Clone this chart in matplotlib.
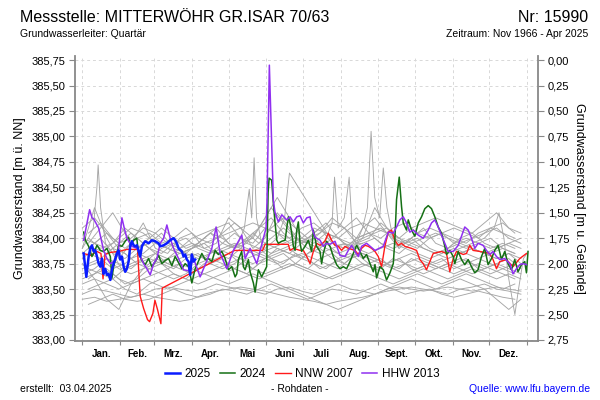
import matplotlib
matplotlib.use("Agg")
import matplotlib.pyplot as plt
from matplotlib.ticker import FixedLocator, FuncFormatter, NullFormatter

plt.rcParams['font.family'] = ['Liberation Sans', 'DejaVu Sans']

# ground level (m ü. NN) -> right axis is depth below ground
ground = 385.75

month_starts = [0, 31, 59, 90, 120, 151, 181, 212, 243, 273, 304, 334, 365]
month_names = ['Jan.', 'Feb.', 'Mrz.', 'Apr.', 'Mai', 'Juni', 'Juli', 'Aug.',
               'Sept.', 'Okt.', 'Nov.', 'Dez.']

# --- 2025 (blue) ---
blue_days = [1.1, 3.3, 5.2, 6.6, 7.9, 9.3, 10.7, 12, 13.4, 14.8,
             16.1, 17.5, 18.8, 20.2, 21.6, 23, 24.3, 25.7, 27.1, 28.4,
             29.8, 31.1, 32.5, 33.9, 35.2, 36.6, 38, 39.3, 40.7, 42.1,
             43.4, 44.8, 46.2, 47.5, 48.9, 50.3, 51.6, 54.4, 57.1, 59.8,
             62.6, 63.9, 66.7, 69.4, 72.1, 74.9, 76.2, 77.6, 79, 81.7,
             83.1, 84.4, 85.8, 87.2, 88.5, 89.9, 91.3, 92.6]
blue_vals = [383.85, 383.62, 383.82, 383.90, 383.93, 383.87, 383.88, 383.82, 383.75, 383.72,
             383.80, 383.65, 383.70, 383.64, 383.65, 383.59, 383.69, 383.75, 383.80, 383.85,
             383.88, 383.79, 383.82, 383.72, 383.67, 383.70, 383.77, 383.92, 383.97, 383.93,
             383.92, 383.93, 383.88, 383.82, 383.92, 383.95, 383.97, 383.95, 383.98, 383.97,
             383.95, 383.92, 383.93, 383.95, 383.98, 384.00, 383.98, 383.95, 383.90, 383.87,
             383.82, 383.84, 383.79, 383.77, 383.64, 383.84, 383.77, 383.79]

# --- 2024 (green) ---
green_days = [1.1, 2.5, 5.2, 7.9, 9.3, 12, 14.8, 17.5, 20.2, 23,
              24.3, 25.7, 28.4, 29.8, 32.5, 35.2, 38, 39.3, 42, 44.7,
              46, 48.9, 51.6, 54.4, 57.1, 59.8, 62.6, 65.3, 68, 70.8,
              73.5, 76.2, 79, 81.7, 84.4, 87.2, 89.9, 92.6, 98.1, 100.8,
              103.5, 106.3, 109, 111.7, 114.5, 117.2, 119.9, 122.7, 125.4, 126.8,
              128.1, 130.8, 132.2, 133.6, 136.3, 137.7, 140.4, 141.8, 144.5, 147.2,
              150, 151.3, 152.5, 153.3, 155.4, 156.8, 158.2, 159.6, 160.9, 163.7,
              166.4, 169.1, 170.5, 171.9, 173.2, 174.6, 176, 177.3, 178.7, 180,
              182.8, 185.5, 188.2, 189.6, 192.3, 195.1, 196.4, 197.8, 200.5, 203.3,
              206, 208.7, 211.5, 214.2, 216.9, 219.7, 222.4, 225.1, 227.9, 230.6,
              233.3, 236.1, 238.8, 240.2, 241.5, 244.3, 247, 249.7, 252.5, 255.2,
              256.5, 257.9, 260.1, 262, 263.4, 266.1, 267.5, 270.2, 272.9, 275.7,
              278.4, 281.1, 283.9, 286.6, 289.3, 292.1, 294.8, 297.5, 298.9, 301.6,
              304.4, 305.7, 308.5, 311.2, 313.9, 316.7, 319.4, 322.1, 324.8, 327.6,
              330.3, 333, 335.8, 338.5, 341.2, 344, 346.7, 349.4, 352.2, 354.9,
              357.6, 360.4, 363.1, 364.5, 365.8]
green_vals = [384.06, 383.98, 383.92, 383.82, 383.85, 383.93, 383.88, 383.87, 383.90, 383.82,
              383.61, 383.72, 383.85, 383.93, 383.92, 383.97, 384.01, 383.93, 383.98, 384.00,
              383.86, 383.78, 383.74, 383.80, 383.72, 383.77, 383.83, 383.75, 383.78, 383.80,
              383.73, 383.82, 383.76, 383.70, 383.75, 383.72, 383.56, 383.70, 383.85, 383.79,
              383.80, 383.77, 383.88, 383.84, 383.87, 383.80, 383.69, 383.72, 383.62, 383.65,
              383.79, 383.87, 383.72, 383.69, 383.79, 383.67, 383.56, 383.47, 383.69, 383.62,
              383.69, 383.72, 384.45, 384.59, 384.57, 384.34, 384.15, 383.98, 383.95, 383.97,
              383.98, 384.21, 384.15, 384.05, 383.92, 383.88, 384.08, 384.16, 383.95, 383.87,
              383.92, 383.98, 383.87, 384.08, 383.92, 383.87, 383.75, 383.85, 383.97, 383.92,
              383.82, 383.74, 383.70, 383.72, 383.70, 383.77, 383.85, 383.93, 383.87, 383.80,
              383.84, 383.75, 383.67, 383.74, 383.61, 383.72, 383.69, 383.59, 383.66, 383.75,
              383.98, 384.38, 384.60, 384.31, 384.15, 384.08, 384.18, 384.08, 384.02, 384.15,
              384.21, 384.29, 384.32, 384.29, 384.21, 384.11, 384.05, 383.92, 383.84, 383.88,
              383.82, 383.75, 383.87, 383.79, 383.74, 383.79, 383.72, 383.66, 383.69, 383.82,
              383.90, 383.74, 383.80, 383.88, 383.93, 383.79, 383.87, 383.75, 383.69, 383.79,
              383.67, 383.74, 383.77, 383.66, 383.87]

# --- NNW 2007 (red) ---
red_days = [1.1, 6.6, 12, 15.3, 17, 18.6, 23, 29.8, 36.6, 45.3,
            47.5, 50.3, 53.5, 55.2, 57.9, 59.6, 61.7, 64.5, 65.6, 125,
            148, 150, 169, 170.5, 173.2, 178.7, 181.4, 184.2, 186.9, 189.6,
            192.3, 195.1, 199.2, 201.9, 204.6, 207.4, 210.1, 212.8, 215.6, 218.3,
            223.8, 226.5, 229.2, 232, 234.7, 237.4, 240.2, 242.9, 245.6, 248.3,
            251.1, 253.8, 256.5, 259.3, 262, 264.7, 270.2, 274.3, 277, 279.8,
            282.5, 285.2, 288, 294.8, 298.9, 301.6, 304.4, 307.1, 312.6, 315.3,
            318, 320.7, 326.2, 334.4, 337.1, 339.9, 342.6, 348.1, 353.5, 359,
            364.5]
red_vals = [383.85, 383.83, 383.87, 383.85, 383.60, 383.84, 383.86, 383.87, 383.89, 383.89,
            383.43, 383.31, 383.20, 383.18, 383.26, 383.39, 383.30, 383.16, 383.51, 383.88,
            383.88, 383.94, 383.94, 383.88, 383.90, 383.88, 383.88, 383.82, 383.75, 383.87,
            383.95, 383.93, 383.97, 384.05, 383.98, 383.93, 383.92, 383.88, 383.92, 383.90,
            383.88, 383.84, 383.90, 383.93, 383.92, 383.90, 383.87, 383.82, 383.72, 383.92,
            384.06, 384.08, 383.98, 383.93, 383.95, 383.92, 383.90, 383.88, 383.79, 383.75,
            383.69, 383.77, 383.85, 383.87, 383.85, 383.67, 383.80, 383.87, 383.84, 383.85,
            383.93, 383.88, 383.87, 383.85, 383.79, 383.70, 383.77, 383.79, 383.72, 383.80,
            383.85]

# --- HHW 2013 (purple) ---
purple_days = [1.1, 6, 8, 9.3, 13.4, 17.5, 20.2, 23, 27, 29.8,
               32.5, 34.4, 36.6, 40.7, 44.8, 50.3, 53, 55.7, 58.5, 61.2,
               63.9, 66.7, 69.4, 72.1, 74.9, 79, 83.1, 87.2, 91.3, 96.7,
               102.2, 106.3, 109.8, 113.1, 118.6, 124, 130.9, 133.6, 137.7, 143.2,
               148.6, 150.8, 151.6, 153.5, 156.8, 158.2, 160.9, 163.7, 167.8, 170.5,
               173.2, 176, 178.7, 181.4, 184.2, 186.9, 188.2, 191, 195.1, 197.8,
               200.5, 203.3, 207.4, 211.5, 215.6, 218.3, 221, 223.8, 226.5, 229.2,
               233.3, 240.2, 247, 251.1, 255.2, 257.9, 260.6, 263.4, 266.1, 268.8,
               271.6, 275.7, 279.8, 283.9, 286.6, 289.3, 292.1, 294.8, 297.5, 300.3,
               304.4, 308.5, 311.2, 313.9, 316.7, 319.4, 322.1, 324.8, 328.9, 331.7,
               334.4, 337.1, 339.9, 342.6, 346.7, 350.8, 353.5, 356.3, 359, 361.7,
               364.5]
purple_vals = [383.98, 384.28, 384.20, 384.19, 384.10, 383.88, 383.80, 383.75, 383.78, 383.90,
               384.20, 384.10, 384.00, 383.92, 383.90, 383.75, 383.70, 383.64, 383.75, 383.80,
               383.95, 384.00, 384.13, 384.00, 383.90, 383.80, 383.69, 383.68, 383.80, 383.62,
               383.78, 383.90, 384.11, 383.85, 383.70, 383.88, 384.03, 383.80, 383.90, 383.75,
               384.00, 384.10, 384.37, 385.70, 384.37, 384.25, 384.16, 384.23, 384.18, 384.21,
               384.16, 384.21, 384.22, 384.15, 384.20, 384.21, 384.11, 384.01, 383.98, 383.92,
               383.95, 383.94, 383.97, 383.83, 383.82, 383.88, 383.93, 383.87, 383.82, 383.92,
               383.95, 383.88, 383.92, 384.06, 384.05, 384.11, 384.18, 384.21, 384.15, 384.06,
               384.08, 384.03, 384.00, 384.08, 384.15, 384.18, 384.11, 384.03, 383.95, 383.87,
               383.87, 383.93, 384.02, 384.11, 384.08, 384.00, 383.90, 383.95, 383.93, 383.88,
               383.84, 383.87, 383.82, 383.79, 383.80, 383.75, 383.65, 383.70, 383.74, 383.75,
               383.74]

# --- other years (grey), read coarsely every 10 days ---
grey_days = [0, 10, 20, 30, 40, 50, 60, 70, 80, 90, 100, 110, 120, 130, 140, 150, 160, 170, 180,
             190, 200, 210, 220, 230, 240, 250, 260, 270, 280, 290, 300, 310, 320, 330, 340, 350, 360]
grey_years = [
    [383.85, 383.95, 384.05, 383.9, 383.8, 383.85, 383.95, 383.9, 383.85, 383.9, 384.0, 384.1, 383.95,
     383.9, 384.05, 383.95, 383.9, 383.85, 383.95, 384.0, 383.9, 383.85, 383.9, 383.95, 384.0, 383.9,
     383.85, 383.95, 383.9, 383.85, 383.9, 383.95, 383.9, 383.85, 383.9, 383.95, 383.9],
    [383.7, 383.75, 383.8, 383.7, 383.65, 383.7, 383.75, 383.8, 383.85, 383.9, 383.95, 383.85, 383.8,
     383.9, 383.85, 383.8, 383.75, 383.8, 383.85, 383.8, 383.75, 383.7, 383.8, 383.85, 383.8, 383.75,
     383.7, 383.8, 383.75, 383.7, 383.75, 383.8, 383.75, 383.7, 383.75, 383.8, 383.7],
    [384.1, 384.2, 384.05, 383.95, 384.0, 384.1, 384.05, 383.95, 383.9, 384.0, 384.05, 384.1, 384.15,
     384.0, 383.95, 384.1, 384.05, 383.95, 384.0, 384.1, 384.05, 384.0, 383.95, 384.0, 384.05, 384.1,
     384.0, 383.95, 384.0, 384.05, 384.0, 383.95, 384.0, 384.05, 384.1, 384.0, 383.95],
    [383.6, 383.65, 383.7, 383.6, 383.55, 383.6, 383.65, 383.7, 383.75, 383.7, 383.65, 383.7, 383.75,
     383.8, 383.7, 383.65, 383.7, 383.75, 383.7, 383.65, 383.6, 383.65, 383.7, 383.75, 383.7, 383.65,
     383.6, 383.65, 383.7, 383.65, 383.6, 383.65, 383.7, 383.65, 383.6, 383.65, 383.6],
    [383.45, 383.5, 383.48, 383.45, 383.42, 383.45, 383.5, 383.52, 383.5, 383.48, 383.5, 383.55, 383.52,
     383.5, 383.48, 383.45, 383.5, 383.52, 383.48, 383.45, 383.5, 383.55, 383.5, 383.48, 383.45, 383.5,
     383.52, 383.5, 383.48, 383.5, 383.52, 383.5, 383.48, 383.5, 383.52, 383.5, 383.48],
    [383.4, 383.42, 383.38, 383.4, 383.42, 383.45, 383.42, 383.4, 383.38, 383.4, 383.45, 383.48, 383.5,
     383.52, 383.5, 383.48, 383.45, 383.42, 383.4, 383.38, 383.35, 383.38, 383.4, 383.42, 383.45, 383.48,
     383.5, 383.52, 383.5, 383.48, 383.45, 383.5, 383.52, 383.55, 383.5, 383.48, 383.45],
    [383.9, 384.3, 384.0, 383.8, 383.95, 384.15, 383.9, 383.85, 384.0, 384.05, 383.9, 383.95, 384.2,
     384.1, 383.9, 384.0, 384.25, 384.1, 383.95, 384.05, 384.15, 384.0, 383.9, 384.1, 384.2, 384.05,
     383.9, 384.0, 384.1, 383.95, 383.9, 384.0, 384.05, 383.95, 383.9, 383.95, 384.0],
    [383.75, 383.6, 383.4, 383.3, 383.55, 383.7, 383.8, 383.75, 383.7, 383.65, 383.75, 383.8, 383.85,
     383.75, 383.7, 383.8, 383.85, 383.9, 383.8, 383.75, 383.7, 383.8, 383.85, 383.75, 383.7, 383.75,
     383.8, 383.7, 383.65, 383.7, 383.75, 383.7, 383.65, 383.7, 383.75, 383.7, 383.65],
    [383.8, 383.9, 383.85, 383.95, 384.05, 383.95, 383.85, 383.8, 383.9, 383.95, 383.9, 383.85, 383.9,
     383.95, 384.0, 384.2, 384.4, 384.2, 384.0, 383.95, 384.05, 384.0, 383.9, 384.0, 384.3, 384.1,
     383.95, 384.0, 383.9, 383.85, 383.8, 383.85, 383.9, 383.85, 383.8, 383.85, 383.8],
    [383.65, 383.7, 383.8, 383.75, 383.7, 383.8, 383.85, 383.75, 383.8, 383.85, 383.8, 383.9, 383.85,
     383.8, 383.75, 383.8, 383.9, 383.85, 383.8, 383.9, 383.95, 383.85, 383.8, 383.85, 383.8, 383.75,
     383.8, 383.85, 383.8, 383.75, 383.8, 383.85, 383.9, 383.85, 383.8, 383.85, 383.75],
    [383.55, 383.6, 383.55, 383.5, 383.55, 383.6, 383.55, 383.5, 383.55, 383.6, 383.65, 383.6, 383.55,
     383.6, 383.65, 383.6, 383.55, 383.5, 383.45, 383.4, 383.35, 383.3, 383.35, 383.4, 383.45, 383.5,
     383.55, 383.6, 383.55, 383.5, 383.55, 383.6, 383.55, 383.5, 383.4, 383.3, 383.4],
    [384.0, 383.95, 383.9, 384.0, 384.1, 384.05, 383.95, 383.9, 383.85, 383.9, 383.95, 384.0, 384.05,
     384.1, 384.15, 384.1, 384.05, 384.0, 384.1, 384.15, 384.05, 384.0, 384.1, 384.15, 384.1, 384.05,
     384.0, 384.1, 384.15, 384.2, 384.15, 384.1, 384.05, 384.15, 384.25, 384.1, 384.05],
]

# more grey years, read on the days in between
grey_days_b = [5, 15, 25, 35, 45, 55, 65, 75, 85, 95, 105, 115, 125, 135, 145, 155, 165, 175,
               185, 195, 205, 215, 225, 235, 245, 255, 265, 275, 285, 295, 305, 315, 325, 335, 345, 355]
grey_years_b = [
    [383.9, 384.0, 383.85, 383.8, 383.9, 384.0, 384.1, 384.0, 383.9, 383.95, 384.05, 384.0, 383.9,
     384.0, 384.1, 384.2, 384.05, 383.95, 384.0, 384.1, 383.95, 383.9, 384.0, 384.05, 383.95, 383.9,
     383.95, 384.0, 383.9, 383.85, 383.95, 384.0, 383.95, 383.9, 383.95, 383.9],
    [383.75, 383.8, 383.7, 383.75, 383.85, 383.8, 383.75, 383.7, 383.8, 383.85, 383.75, 383.7, 383.75,
     383.85, 383.9, 383.8, 383.75, 383.85, 383.8, 383.7, 383.75, 383.8, 383.85, 383.75, 383.7, 383.8,
     383.75, 383.7, 383.75, 383.8, 383.7, 383.75, 383.8, 383.75, 383.7, 383.75],
    [384.05, 384.15, 384.0, 383.9, 384.0, 384.05, 383.95, 384.0, 384.1, 384.0, 383.95, 384.05, 384.15,
     384.05, 383.95, 384.1, 384.2, 384.1, 384.0, 384.05, 384.15, 384.1, 384.0, 384.05, 384.1, 384.0,
     383.95, 384.05, 384.1, 384.05, 384.0, 383.95, 384.05, 384.1, 384.05, 384.0],
    [383.6, 383.7, 383.65, 383.55, 383.6, 383.7, 383.75, 383.65, 383.6, 383.7, 383.75, 383.8, 383.7,
     383.65, 383.75, 383.8, 383.85, 383.75, 383.7, 383.8, 383.85, 383.75, 383.7, 383.75, 383.8, 383.7,
     383.65, 383.7, 383.75, 383.7, 383.65, 383.7, 383.75, 383.7, 383.65, 383.6],
    [383.5, 383.55, 383.6, 383.5, 383.45, 383.55, 383.6, 383.65, 383.6, 383.55, 383.6, 383.65, 383.7,
     383.65, 383.6, 383.65, 383.7, 383.75, 383.7, 383.65, 383.6, 383.65, 383.7, 383.65, 383.6, 383.55,
     383.6, 383.65, 383.6, 383.55, 383.6, 383.65, 383.6, 383.55, 383.5, 383.55],
    [383.95, 384.1, 384.25, 384.05, 383.9, 383.95, 384.05, 383.9, 383.85, 383.95, 384.05, 383.95, 383.9,
     383.95, 384.1, 384.3, 384.15, 384.0, 383.95, 384.05, 384.2, 384.1, 383.95, 384.0, 384.15, 384.05,
     383.95, 383.9, 384.0, 384.05, 383.95, 383.9, 383.95, 384.0, 383.9, 383.85],
    [383.85, 383.8, 383.9, 383.85, 383.75, 383.8, 383.9, 383.95, 383.85, 383.8, 383.85, 383.9, 383.95,
     383.9, 383.85, 383.9, 383.95, 384.0, 383.9, 383.85, 383.9, 383.95, 383.9, 383.85, 383.9, 383.95,
     383.9, 383.85, 383.8, 383.85, 383.9, 383.85, 383.8, 383.85, 383.9, 383.85],
    [383.7, 383.65, 383.6, 383.7, 383.75, 383.7, 383.65, 383.6, 383.65, 383.75, 383.8, 383.75, 383.7,
     383.8, 383.85, 383.8, 383.7, 383.75, 383.85, 383.9, 383.8, 383.75, 383.85, 383.8, 383.75, 383.7,
     383.75, 383.8, 383.75, 383.7, 383.75, 383.8, 383.7, 383.65, 383.7, 383.65],
    [383.35, 383.4, 383.45, 383.4, 383.38, 383.4, 383.45, 383.5, 383.45, 383.42, 383.45, 383.5, 383.48,
     383.45, 383.5, 383.55, 383.5, 383.45, 383.4, 383.45, 383.5, 383.48, 383.45, 383.5, 383.55, 383.5,
     383.45, 383.48, 383.5, 383.45, 383.42, 383.45, 383.48, 383.45, 383.42, 383.4],
    [384.0, 383.9, 383.95, 384.1, 384.0, 383.9, 383.85, 383.95, 384.0, 383.9, 383.85, 383.95, 384.05,
     383.95, 383.9, 384.0, 384.1, 384.0, 383.95, 383.9, 384.0, 384.1, 384.2, 384.05, 384.0, 384.1,
     384.15, 384.05, 384.0, 384.05, 384.1, 384.05, 384.0, 384.1, 384.15, 384.05],
]

# grey years with short peaks (own day lists)
peak_days = [
    [0, 5, 9, 12, 13, 15, 19, 25, 32, 40, 50],
    [120, 128, 133, 137, 139, 141, 143, 148, 155, 165, 175],
    [150, 160, 166, 170, 207, 230],
    [195, 200, 205, 207, 210, 215, 219, 222, 228],
    [225, 230, 234, 237, 240, 244, 247, 250, 255, 260],
    [300, 310, 320, 330, 338, 342, 346, 350, 355, 358, 362, 365],
]
peak_vals = [
    [383.9, 384.0, 384.1, 384.5, 384.72, 384.3, 383.95, 383.85, 383.7, 383.75, 383.8],
    [383.9, 383.95, 384.1, 384.48, 384.2, 384.79, 384.2, 383.9, 383.85, 383.9, 383.95],
    [383.9, 384.0, 384.2, 384.64, 383.93, 383.95],
    [383.9, 384.0, 384.15, 384.6, 384.1, 384.2, 384.6, 384.0, 383.9],
    [383.95, 384.1, 384.3, 385.05, 384.4, 384.2, 384.69, 384.3, 384.0, 383.9],
    [383.85, 383.9, 383.95, 384.0, 384.1, 384.25, 384.0, 383.6, 383.25, 383.5, 383.8, 383.85],
]

fig = plt.figure(figsize=(6, 4), dpi=100)
ax = fig.add_axes([0.125, 0.1475, 0.7717, 0.7125])

grid_col = '#d8d8d8'
spine_col = '#888888'
grey = '#a6a6a6'

for vals in grey_years:
    ax.plot(grey_days, vals, color=grey, lw=0.65, zorder=2)
for vals in grey_years_b:
    ax.plot(grey_days_b, vals, color=grey, lw=0.65, zorder=2)
for d, v in zip(peak_days, peak_vals):
    ax.plot(d, v, color=grey, lw=0.65, zorder=2)

l_red, = ax.plot(red_days, red_vals, color='#ff1a1a', lw=1.0, zorder=3)
l_green, = ax.plot(green_days, green_vals, color='#157015', lw=1.1, zorder=4)
l_purple, = ax.plot(purple_days, purple_vals, color='#9030f0', lw=1.1, zorder=5)
l_blue, = ax.plot(blue_days, blue_vals, color='#0a1cff', lw=1.8, zorder=6)

ax.set_xlim(-6, 374)
ax.set_ylim(382.99, 385.79)

# y axis
yticks = [383.0 + 0.25 * i for i in range(12)]
ax.yaxis.set_major_locator(FixedLocator(yticks))
ax.yaxis.set_major_formatter(FuncFormatter(lambda v, p: ('%.2f' % v).replace('.', ',')))
ax.tick_params(axis='y', labelsize=8, length=4, color=spine_col, pad=3)

# x axis: ticks at month starts, labels at mid month
ax.xaxis.set_major_locator(FixedLocator(month_starts))
ax.xaxis.set_major_formatter(NullFormatter())
mids = [(month_starts[i] + month_starts[i + 1]) / 2 for i in range(12)]
ax.xaxis.set_minor_locator(FixedLocator(mids))
ax.xaxis.set_minor_formatter(FuncFormatter(lambda v, p: month_names[p] if p < 12 else ''))
ax.tick_params(axis='x', which='major', length=3, color=spine_col)
ax.tick_params(axis='x', which='minor', length=0, labelsize=7, pad=6)
for lab in ax.xaxis.get_minorticklabels():
    lab.set_fontweight('bold')

ax.grid(True, which='major', color=grid_col, lw=0.7, linestyle=(0, (3, 3)), zorder=0)
ax.set_axisbelow(True)

for s in ['left', 'bottom']:
    ax.spines[s].set_color(spine_col)
    ax.spines[s].set_linewidth(1.3)
ax.spines['top'].set_visible(False)
ax.spines['right'].set_visible(False)

ax.set_ylabel('Grundwasserstand [m ü. NN]', fontsize=9, labelpad=4)

# right axis: depth below ground
ax2 = ax.twinx()
lo, hi = ax.get_ylim()
ax2.set_ylim(ground - lo, ground - hi)
ax2.yaxis.set_major_locator(FixedLocator([0.25 * i for i in range(12)]))
ax2.yaxis.set_major_formatter(FuncFormatter(lambda v, p: ('%.2f' % v).replace('.', ',')))
ax2.tick_params(axis='y', labelsize=8, length=4, color=spine_col, pad=3)
for s in ['left', 'bottom', 'top']:
    ax2.spines[s].set_visible(False)
ax2.spines['right'].set_color(spine_col)
ax2.spines['right'].set_linewidth(1.3)
ax2.set_ylabel('Grundwasserstand [m u. Gelände]', fontsize=9, rotation=270, labelpad=11)

# header
fig.text(20 / 600, 1 - 18 / 400, 'Messstelle: MITTERWÖHR GR.ISAR 70/63', fontsize=11.5,
         ha='left', va='center')
fig.text(588 / 600, 1 - 18 / 400, 'Nr: 15990', fontsize=11.5, ha='right', va='center')
fig.text(20 / 600, 1 - 34 / 400, 'Grundwasserleiter: Quartär', fontsize=7.5, ha='left', va='center')
fig.text(588 / 600, 1 - 34 / 400, 'Zeitraum: Nov 1966 - Apr 2025', fontsize=7.5,
         ha='right', va='center')

# legend
fig.legend([l_blue, l_green, l_red, l_purple], ['2025', '2024', 'NNW 2007', 'HHW 2013'],
           loc='center', bbox_to_anchor=(302 / 600, 1 - 374 / 400), ncol=4, frameon=False,
           fontsize=8.5, handlelength=1.3, handletextpad=0.35, columnspacing=0.8)

# footer
fig.text(20 / 600, 1 - 389 / 400, 'erstellt:  03.04.2025', fontsize=7.5, ha='left', va='center')
fig.text(300 / 600, 1 - 389 / 400, '- Rohdaten -', fontsize=7.5, ha='center', va='center')
fig.text(590 / 600, 1 - 389 / 400, 'Quelle: www.lfu.bayern.de', fontsize=7.5, color='#0000ff',
         ha='right', va='center')

fig.savefig('out.png', dpi=100)
